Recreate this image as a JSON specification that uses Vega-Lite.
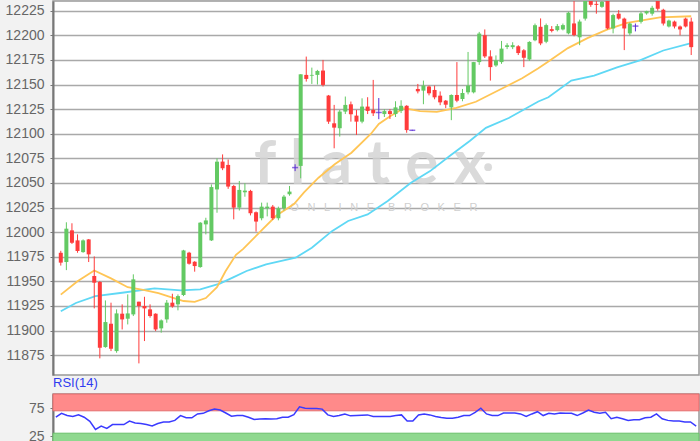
{
  "$schema": "https://vega.github.io/schema/vega-lite/v6.json",
  "background": "#f2f2f2",
  "padding": {"left": 4, "top": 0, "right": 1, "bottom": 0},
  "spacing": 19,
  "bounds": "flush",
  "config": {
    "view": {"stroke": "#999999", "strokeWidth": 1.5, "fill": "white"},
    "axis": {"labelFont": "Liberation Sans", "labelFontSize": 14, "labelColor": "#666666", "tickSize": 3, "tickColor": "#777777", "labelPadding": 6, "domainColor": "#777777", "domainWidth": 2, "title": null, "labelOverlap": false}
  },
  "datasets": {
    "candles": [
      {"i":0,"open":11979,"high":11981,"low":11966,"close":11969,"rsi":58.6},
      {"i":1,"open":11969.6,"high":12010,"low":11961.4,"close":12003.5,"rsi":65.5},
      {"i":2,"open":12001.8,"high":12009,"low":11988,"close":11989.2,"rsi":61.5},
      {"i":3,"open":11991.6,"high":11997.7,"low":11979,"close":11980.8,"rsi":59.8},
      {"i":4,"open":11979.7,"high":11992.6,"low":11979,"close":11991.6,"rsi":62.7},
      {"i":5,"open":11992.6,"high":11993,"low":11969.6,"close":11977.4,"rsi":58.6},
      {"i":6,"open":11955.4,"high":11975.3,"low":11922.5,"close":11948.6,"rsi":51.2},
      {"i":7,"open":11949.3,"high":11950.3,"low":11871.7,"close":11882.5,"rsi":36.8},
      {"i":8,"open":11883.2,"high":11930.6,"low":11882.5,"close":11908.6,"rsi":42.6},
      {"i":9,"open":11906.9,"high":11928.3,"low":11879.1,"close":11881.5,"rsi":38.5},
      {"i":10,"open":11879.1,"high":11921.5,"low":11877.4,"close":11917.4,"rsi":45.4},
      {"i":11,"open":11917.1,"high":11926.6,"low":11901.1,"close":11911.3,"rsi":45.4},
      {"i":12,"open":11912,"high":11936.7,"low":11906.2,"close":11917.4,"rsi":45.4},
      {"i":13,"open":11916.4,"high":11957.1,"low":11914.7,"close":11952,"rsi":51.7},
      {"i":14,"open":11929.3,"high":11929.3,"low":11866.6,"close":11924.9,"rsi":48.3},
      {"i":15,"open":11924.9,"high":11934.3,"low":11889.3,"close":11922.5,"rsi":47.2},
      {"i":16,"open":11921.5,"high":11926.6,"low":11913,"close":11914.7,"rsi":45.4},
      {"i":17,"open":11917.1,"high":11917.5,"low":11899.4,"close":11901.1,"rsi":43.1},
      {"i":18,"open":11902.2,"high":11911.3,"low":11897.8,"close":11910.3,"rsi":47.2},
      {"i":19,"open":11911.3,"high":11931,"low":11907.9,"close":11928.3,"rsi":50},
      {"i":20,"open":11928.3,"high":11937.4,"low":11923.2,"close":11924.5,"rsi":50},
      {"i":21,"open":11926.6,"high":11936.7,"low":11920.5,"close":11935,"rsi":52.9},
      {"i":22,"open":11936.1,"high":11982,"low":11935,"close":11981.4,"rsi":61.5},
      {"i":23,"open":11979.1,"high":11980,"low":11967,"close":11967.9,"rsi":57.5},
      {"i":24,"open":11969.9,"high":11970.5,"low":11959.8,"close":11965.5,"rsi":57.5},
      {"i":25,"open":11964.5,"high":12010.2,"low":11963.8,"close":12009.6,"rsi":64.4},
      {"i":26,"open":12007.9,"high":12014.6,"low":11997.7,"close":12011.9,"rsi":65.5},
      {"i":27,"open":11991.6,"high":12048.5,"low":11991,"close":12045.8,"rsi":70.1},
      {"i":28,"open":12043.4,"high":12075,"low":12019.7,"close":12071.6,"rsi":73},
      {"i":29,"open":12071.7,"high":12079,"low":12063,"close":12064.9,"rsi":71.3},
      {"i":30,"open":12068.3,"high":12073.8,"low":12044,"close":12046.3,"rsi":66.1},
      {"i":31,"open":12046.9,"high":12048,"low":12013,"close":12024.9,"rsi":60.4},
      {"i":32,"open":12024.9,"high":12052,"low":12022,"close":12042.9,"rsi":61.5},
      {"i":33,"open":12040.5,"high":12049.7,"low":12036,"close":12042.2,"rsi":61.5},
      {"i":34,"open":12041.9,"high":12043,"low":12017,"close":12019.2,"rsi":58.6},
      {"i":35,"open":12020.2,"high":12021,"low":12000.5,"close":12010.7,"rsi":54.6},
      {"i":36,"open":12014.1,"high":12030,"low":12012,"close":12025.9,"rsi":55.2},
      {"i":37,"open":12024.3,"high":12030,"low":12016,"close":12025.9,"rsi":55.8},
      {"i":38,"open":12025.9,"high":12027.6,"low":12012.4,"close":12014.1,"rsi":55.2},
      {"i":39,"open":12014.1,"high":12025.9,"low":12012,"close":12024.2,"rsi":55.8},
      {"i":40,"open":12024.2,"high":12037.8,"low":12022,"close":12036.1,"rsi":58.6},
      {"i":41,"open":12038.5,"high":12046.9,"low":12037,"close":12041.2,"rsi":58.6},
      {"i":42,"open":12065.6,"high":12069,"low":12062,"close":12065.6,"rsi":63.2},
      {"i":43,"open":12067.3,"high":12160.4,"low":12054.7,"close":12160.4,"rsi":77},
      {"i":44,"open":12159.8,"high":12178.4,"low":12153,"close":12155.7,"rsi":74.7},
      {"i":45,"open":12159,"high":12167.2,"low":12150.6,"close":12159.8,"rsi":74.2},
      {"i":46,"open":12159.8,"high":12164.9,"low":12150,"close":12163.8,"rsi":74.2},
      {"i":47,"open":12164.2,"high":12175,"low":12148,"close":12149.6,"rsi":73},
      {"i":48,"open":12138.8,"high":12139.4,"low":12110,"close":12112.3,"rsi":62.7},
      {"i":49,"open":12110.6,"high":12129.3,"low":12085.2,"close":12106.2,"rsi":59.8},
      {"i":50,"open":12105.6,"high":12124.2,"low":12097.1,"close":12122.5,"rsi":61.5},
      {"i":51,"open":12122.5,"high":12137.8,"low":12120,"close":12129.3,"rsi":64.4},
      {"i":52,"open":12129.9,"high":12132.7,"low":12112.3,"close":12119.8,"rsi":61},
      {"i":53,"open":12118.4,"high":12124.2,"low":12098.8,"close":12112.3,"rsi":61.5},
      {"i":54,"open":12112.3,"high":12136,"low":12110.6,"close":12127.6,"rsi":62.2},
      {"i":55,"open":12127.6,"high":12137.1,"low":12120,"close":12123.2,"rsi":62.7},
      {"i":56,"open":12124.2,"high":12154.7,"low":12118,"close":12120.8,"rsi":59.8},
      {"i":57,"open":12121.6,"high":12136.3,"low":12114.8,"close":12121.6,"rsi":59.8},
      {"i":58,"open":12120,"high":12125,"low":12117,"close":12123,"rsi":59.8},
      {"i":59,"open":12123,"high":12125,"low":12115,"close":12120,"rsi":59.8},
      {"i":60,"open":12120,"high":12133,"low":12117,"close":12126.8,"rsi":61.5},
      {"i":61,"open":12123.3,"high":12134,"low":12121,"close":12128.4,"rsi":62.7},
      {"i":62,"open":12128.4,"high":12129,"low":12101,"close":12103.7,"rsi":51.7},
      {"i":63,"open":12103.5,"high":12104,"low":12103,"close":12103.5,"rsi":51.7},
      {"i":64,"open":12145.5,"high":12150.6,"low":12141,"close":12143.1,"rsi":62.7},
      {"i":65,"open":12143.8,"high":12154,"low":12130,"close":12149,"rsi":64.4},
      {"i":66,"open":12148,"high":12149,"low":12139,"close":12141.1,"rsi":62.7},
      {"i":67,"open":12144.5,"high":12149,"low":12135,"close":12137,"rsi":59.8},
      {"i":68,"open":12138.7,"high":12143,"low":12129,"close":12131.9,"rsi":58},
      {"i":69,"open":12133.6,"high":12134.3,"low":12126,"close":12129.5,"rsi":56.9},
      {"i":70,"open":12126.8,"high":12140,"low":12113.8,"close":12139.4,"rsi":56.9},
      {"i":71,"open":12139.4,"high":12172.8,"low":12132,"close":12133.6,"rsi":58.6},
      {"i":72,"open":12135.3,"high":12145.5,"low":12133,"close":12141.4,"rsi":61.5},
      {"i":73,"open":12142.1,"high":12183.1,"low":12140,"close":12149,"rsi":61.5},
      {"i":74,"open":12142.1,"high":12173,"low":12141,"close":12172.8,"rsi":67.3},
      {"i":75,"open":12172.8,"high":12203.5,"low":12170,"close":12201.8,"rsi":74.7},
      {"i":76,"open":12200.1,"high":12206,"low":12177,"close":12178.6,"rsi":64.4},
      {"i":77,"open":12178.6,"high":12184.8,"low":12154,"close":12167.7,"rsi":61.5},
      {"i":78,"open":12169.4,"high":12179.6,"low":12168,"close":12174.5,"rsi":61.5},
      {"i":79,"open":12172.8,"high":12194.3,"low":12171,"close":12186.5,"rsi":66.1},
      {"i":80,"open":12188.2,"high":12192,"low":12186,"close":12189.9,"rsi":66.1},
      {"i":81,"open":12188,"high":12193,"low":12186,"close":12190,"rsi":66.1},
      {"i":82,"open":12188.9,"high":12190,"low":12180,"close":12182,"rsi":64.4},
      {"i":83,"open":12184.8,"high":12186,"low":12167.7,"close":12177.2,"rsi":59.8},
      {"i":84,"open":12175.5,"high":12194,"low":12174,"close":12193.3,"rsi":64.4},
      {"i":85,"open":12195,"high":12212,"low":12194,"close":12210.3,"rsi":68.4},
      {"i":86,"open":12208.7,"high":12217.2,"low":12190,"close":12191.8,"rsi":61.5},
      {"i":87,"open":12193.5,"high":12212,"low":12192,"close":12210.4,"rsi":65.5},
      {"i":88,"open":12206.3,"high":12209.4,"low":12203,"close":12204.5,"rsi":64.4},
      {"i":89,"open":12205.3,"high":12211.5,"low":12204,"close":12209.4,"rsi":66.1},
      {"i":90,"open":12206,"high":12212,"low":12205,"close":12210.4,"rsi":65.8},
      {"i":91,"open":12202,"high":12224,"low":12201,"close":12223,"rsi":65.5},
      {"i":92,"open":12212.1,"high":12240,"low":12199,"close":12200.3,"rsi":61.5},
      {"i":93,"open":12198,"high":12216,"low":12190,"close":12214,"rsi":66.1},
      {"i":94,"open":12217,"high":12240,"low":12215,"close":12236,"rsi":71.3},
      {"i":95,"open":12238,"high":12242,"low":12229,"close":12231,"rsi":67.3},
      {"i":96,"open":12232,"high":12236,"low":12222,"close":12231,"rsi":65.5},
      {"i":97,"open":12229,"high":12236,"low":12228,"close":12234,"rsi":67.3},
      {"i":98,"open":12236,"high":12240,"low":12206,"close":12207,"rsi":55.8},
      {"i":99,"open":12207,"high":12222,"low":12202,"close":12220.6,"rsi":58.6},
      {"i":100,"open":12222,"high":12225.6,"low":12216,"close":12217,"rsi":55.8},
      {"i":101,"open":12217,"high":12218,"low":12185,"close":12207,"rsi":52.9},
      {"i":102,"open":12202,"high":12213,"low":12200,"close":12212,"rsi":54},
      {"i":103,"open":12209.4,"high":12212,"low":12204,"close":12209.4,"rsi":54},
      {"i":104,"open":12213.8,"high":12224,"low":12212,"close":12222.3,"rsi":57.5},
      {"i":105,"open":12222.3,"high":12225,"low":12221,"close":12224.6,"rsi":58.6},
      {"i":106,"open":12222,"high":12230,"low":12220,"close":12228,"rsi":64.4},
      {"i":107,"open":12236,"high":12240,"low":12225,"close":12227,"rsi":55.8},
      {"i":108,"open":12226,"high":12227,"low":12210,"close":12212,"rsi":52.9},
      {"i":109,"open":12209,"high":12216,"low":12208,"close":12215,"rsi":51.7},
      {"i":110,"open":12214,"high":12215,"low":12207,"close":12209,"rsi":51.7},
      {"i":111,"open":12209,"high":12210,"low":12200,"close":12206,"rsi":50},
      {"i":112,"open":12217,"high":12218,"low":12208,"close":12209,"rsi":50},
      {"i":113,"open":12214,"high":12218,"low":12180,"close":12188,"rsi":42.6}
    ],
    "ma20": [
      {"i":0,"v":11936.5},{"i":3,"v":11950},{"i":6,"v":11961},{"i":9,"v":11953},{"i":12,"v":11944},
      {"i":15,"v":11941},{"i":17.5,"v":11938},{"i":20,"v":11933.5},{"i":22,"v":11930},{"i":24,"v":11929.2},
      {"i":26,"v":11933},{"i":28,"v":11944},{"i":29.5,"v":11960},{"i":31.4,"v":11977},{"i":32.7,"v":11983},
      {"i":36.2,"v":12003},{"i":38.6,"v":12016.6},{"i":41.8,"v":12028.6},{"i":43.6,"v":12040.4},
      {"i":46.2,"v":12055.3},{"i":49.1,"v":12069},{"i":52.1,"v":12080.7},{"i":55.6,"v":12100},
      {"i":57,"v":12110},{"i":59.1,"v":12118},{"i":61.5,"v":12126},{"i":64.4,"v":12123},
      {"i":67.4,"v":12122.3},{"i":70.9,"v":12126.4},{"i":74.4,"v":12132.5},{"i":79.1,"v":12146},
      {"i":82.7,"v":12156.3},{"i":85.6,"v":12166.5},{"i":87.4,"v":12173.4},{"i":90.9,"v":12187},
      {"i":94.4,"v":12197.2},{"i":97.9,"v":12205.8},{"i":101.5,"v":12212.6},{"i":107.4,"v":12218.3},
      {"i":113,"v":12219.4}
    ],
    "ma50": [
      {"i":0,"v":11919.5},{"i":2.7,"v":11928},{"i":6.2,"v":11935},{"i":11,"v":11938.4},{"i":16.8,"v":11942.9},
      {"i":21.5,"v":11940.8},{"i":25,"v":11941.9},{"i":28.5,"v":11947.6},{"i":30.9,"v":11954},
      {"i":33.3,"v":11960.5},{"i":36.8,"v":11967.3},{"i":42.1,"v":11974},{"i":45,"v":11984.2},
      {"i":48.6,"v":12001},{"i":51.5,"v":12011.3},{"i":55,"v":12018},{"i":58.6,"v":12031.6},
      {"i":62.7,"v":12050},{"i":66.2,"v":12062},{"i":69.7,"v":12077.3},{"i":73.3,"v":12092.6},
      {"i":76.2,"v":12106},{"i":80.3,"v":12116},{"i":85.6,"v":12132.8},{"i":87.4,"v":12137},
      {"i":91.5,"v":12154},{"i":95.6,"v":12159},{"i":99.7,"v":12167.5},{"i":103.8,"v":12174.5},
      {"i":108,"v":12184.6},{"i":113,"v":12192}
    ],
    "logo": [
      {"part":"word","text":"f l a t e x","i":55.4,"price":12049},
      {"part":"dot","text":"","i":76.6,"price":12066},
      {"part":"tag","text":"O\u2002\u00a0N\u2002\u00a0L\u2002\u00a0I\u2002\u00a0N\u2002\u00a0E\u2002\u2002\u00a0B\u2002\u00a0R\u2002\u00a0O\u2002\u00a0K\u2002\u00a0E\u2002\u00a0R","i":57.9,"price":12024.5}
    ],
    "bands": [
      {"zone":"overbought","lo":70,"hi":100},
      {"zone":"oversold","lo":0,"hi":30}
    ]
  },
  "vconcat": [
    {
      "width": 646,
      "height": 374,
      "layer": [
        {
          "data": {"name": "logo"},
          "transform": [{"filter": "datum.part == 'word'"}],
          "mark": {"type": "text", "font": "Lato", "fontWeight": "bold", "fontSize": 62, "color": "#d2d2d2", "opacity": 0.8, "align": "center", "baseline": "alphabetic"},
          "encoding": {
            "x": {"field": "i", "type": "quantitative", "scale": {"domain": [-0.5, 113.5], "nice": false, "zero": false}, "axis": null},
            "y": {"field": "price", "type": "quantitative", "scale": {"domain": [11854.8, 12234.9], "nice": false, "zero": false},
                  "axis": {"values": [11875, 11900, 11925, 11950, 11975, 12000, 12025, 12050, 12075, 12100, 12125, 12150, 12175, 12200, 12225], "tickCount": 30, "grid": true, "gridColor": "#a9a9a9", "gridWidth": 1.5, "format": "d", "labelOverlap": false}},
            "text": {"field": "text"}
          }
        },
        {
          "data": {"name": "logo"},
          "transform": [{"filter": "datum.part == 'dot'"}],
          "mark": {"type": "point", "shape": "circle", "filled": true, "size": 60, "color": "#d2d2d2", "opacity": 0.8},
          "encoding": {
            "x": {"field": "i", "type": "quantitative"},
            "y": {"field": "price", "type": "quantitative"}
          }
        },
        {
          "data": {"name": "logo"},
          "transform": [{"filter": "datum.part == 'tag'"}],
          "mark": {"type": "text", "font": "Liberation Sans", "fontSize": 11, "color": "#cfcfcf", "align": "center", "baseline": "middle"},
          "encoding": {
            "x": {"field": "i", "type": "quantitative"},
            "y": {"field": "price", "type": "quantitative"},
            "text": {"field": "text"}
          }
        },
        {
          "data": {"name": "ma50"},
          "mark": {"type": "line", "color": "#5fd8f5", "strokeWidth": 1.8, "clip": true},
          "encoding": {
            "x": {"field": "i", "type": "quantitative"},
            "y": {"field": "v", "type": "quantitative"}
          }
        },
        {
          "data": {"name": "ma20"},
          "mark": {"type": "line", "color": "#ffc555", "strokeWidth": 1.8, "clip": true},
          "encoding": {
            "x": {"field": "i", "type": "quantitative"},
            "y": {"field": "v", "type": "quantitative"}
          }
        },
        {
          "data": {"name": "candles"},
          "mark": {"type": "rule", "strokeWidth": 1, "clip": true},
          "encoding": {
            "x": {"field": "i", "type": "quantitative"},
            "y": {"field": "low", "type": "quantitative"},
            "y2": {"field": "high"},
            "color": {"condition": [{"test": "datum.close > datum.open", "value": "#63c963"}, {"test": "datum.close < datum.open", "value": "#ff3b3b"}], "value": "#5a2bd6"}
          }
        },
        {
          "data": {"name": "candles"},
          "mark": {"type": "bar", "size": 4, "clip": true},
          "encoding": {
            "x": {"field": "i", "type": "quantitative"},
            "y": {"field": "open", "type": "quantitative"},
            "y2": {"field": "close"},
            "color": {"condition": [{"test": "datum.close > datum.open", "value": "#63c963"}, {"test": "datum.close < datum.open", "value": "#ff3b3b"}], "value": "#5a2bd6"}
          }
        },
        {
          "data": {"name": "candles"},
          "transform": [{"filter": "datum.open == datum.close"}],
          "mark": {"type": "tick", "orient": "horizontal", "size": 6, "thickness": 1.5, "color": "#5a2bd6", "clip": true},
          "encoding": {
            "x": {"field": "i", "type": "quantitative"},
            "y": {"field": "open", "type": "quantitative"}
          }
        }
      ]
    },
    {
      "width": 646,
      "height": 56,
      "title": {"text": "RSI(14)", "anchor": "start", "frame": "group", "fontSize": 13, "fontWeight": "normal", "font": "Liberation Sans", "color": "#2f3cf0", "offset": -9, "baseline": "bottom"},
      "layer": [
        {
          "data": {"name": "bands"},
          "mark": {"type": "rect", "strokeWidth": 1},
          "encoding": {
            "y": {"field": "lo", "type": "quantitative", "scale": {"domain": [0, 100], "nice": false}, "axis": {"values": [25, 75], "tickCount": 5, "grid": false, "labelOverlap": false}},
            "y2": {"field": "hi"},
            "color": {"field": "zone", "type": "nominal", "scale": {"domain": ["overbought", "oversold"], "range": ["#ff8a8a", "#8fd88f"]}, "legend": null},
            "stroke": {"field": "zone", "type": "nominal", "scale": {"domain": ["overbought", "oversold"], "range": ["#e46d6d", "#69c069"]}, "legend": null}
          }
        },
        {
          "mark": {"type": "rule", "color": "#aaaaaa", "strokeWidth": 1.5},
          "encoding": {"y": {"datum": 50}}
        },
        {
          "data": {"name": "candles"},
          "mark": {"type": "line", "color": "#3a3aff", "strokeWidth": 1.5},
          "encoding": {
            "x": {"field": "i", "type": "quantitative", "scale": {"domain": [-0.5, 113.5], "nice": false, "zero": false}, "axis": null},
            "y": {"field": "rsi", "type": "quantitative"}
          }
        }
      ]
    }
  ]
}
